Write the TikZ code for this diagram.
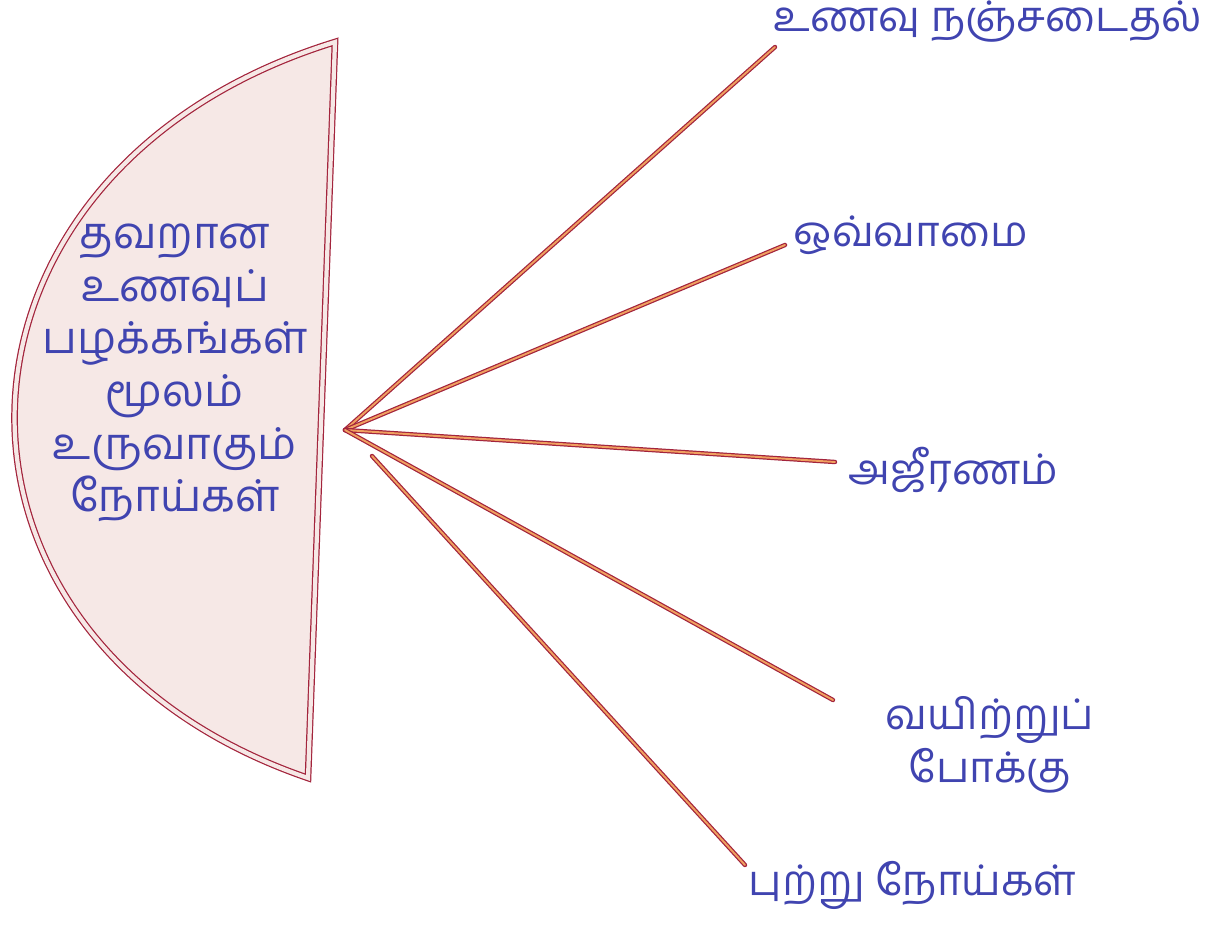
\documentclass[tikz,border=0pt]{standalone}
\usepackage{fontspec}
\newfontfamily\tamil[Script=Tamil]{Hind Madurai}
\definecolor{inkblue}{HTML}{4044B0}
\definecolor{penred}{HTML}{A3243C}
\definecolor{penorange}{HTML}{F0A060}
\definecolor{paperpink}{HTML}{F6E8E6}

\begin{document}
\begin{tikzpicture}[x=0.02cm,y=-0.02cm,
  lbl/.style={text=inkblue,font=\tamil\fontsize{24}{30}\selectfont,inner sep=2pt},
  twig/.style={draw=penred,line width=0.7pt,double=penorange,double distance=1.1pt,line cap=round}]
\useasboundingbox (0,0) rectangle (1221,930);
% half disc
\path[fill=paperpink] (335,42) -- (308,778) .. controls (-95,640) and (-80,170) .. cycle;
\draw[penred,line width=0.7pt,double=paperpink,double distance=2.4pt] (335,42) -- (308,778) .. controls (-95,640) and (-80,170) .. cycle;
\node[lbl,align=center,font=\tamil\fontsize{25}{30}\selectfont] (core) at (175,373) {தவறான\\உணவுப்\\பழக்கங்கள்\\மூலம்\\உருவாகும்\\நோய்கள்};
\coordinate (hub) at (345,430);
\coordinate (huba) at (372,456);
% branch ends
\coordinate (e1) at (775,47);
\coordinate (e2) at (785,245);
\coordinate (e3) at (835,462);
\coordinate (e4) at (833,700);
\coordinate (e5) at (745,865);
\node[lbl,anchor=west] (t1) at (770,22) {உணவு நஞ்சடைதல்};
\node[lbl,anchor=west] (t2) at (790,235) {ஒவ்வாமை};
\node[lbl,anchor=west] (t3) at (845,470) {அஜீரணம்};
\node[lbl,align=center] (t4) at (990,745) {வயிற்றுப்\\போக்கு};
\node[lbl,anchor=west] (t5) at (745,885) {புற்று நோய்கள்};
\draw[twig] (hub)--(e1);\draw[twig] (hub)--(e2);\draw[twig] (hub)--(e3);
\draw[twig] (hub)--(e4);\draw[twig] (huba)--(e5);
\end{tikzpicture}
\end{document}
